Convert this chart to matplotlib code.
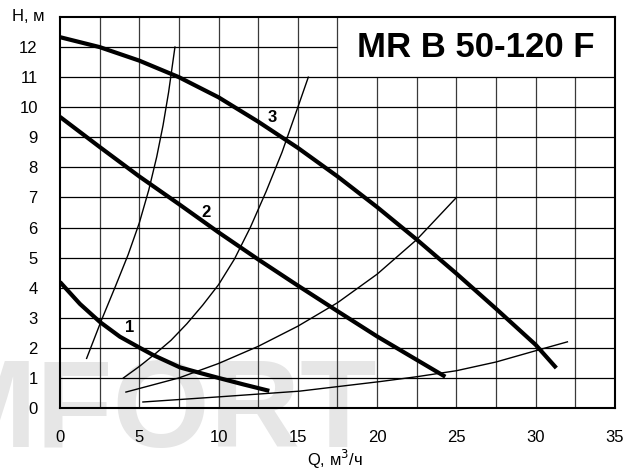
import matplotlib
matplotlib.use('Agg')
import matplotlib.pyplot as plt
import numpy as np

plt.rcParams['font.family'] = ['Liberation Sans', 'DejaVu Sans']

# pump curves (Q, H)
q1 = [0, 1.26, 2.52, 3.78, 5.04, 5.88, 7.57, 8.8, 10.0, 11.6, 13.2]
h1 = [4.19, 3.46, 2.86, 2.37, 2.0, 1.76, 1.35, 1.17, 1.0, 0.78, 0.57]

q2 = [0, 2.5, 5, 7.5, 10, 12.5, 15, 17.5, 20, 22.5, 24.3]
h2 = [9.68, 8.68, 7.7, 6.78, 5.84, 4.94, 4.07, 3.22, 2.38, 1.6, 1.04]

q3 = [0, 2.5, 5, 7.5, 10, 12.5, 15, 17.5, 20, 22.5, 25, 27.5, 30, 31.3]
h3 = [12.33, 12.0, 11.55, 11.0, 10.33, 9.52, 8.65, 7.7, 6.68, 5.6, 4.47, 3.3, 2.1, 1.33]

# system curves
qa = [1.68, 2.6, 3.5, 4.3, 5.0, 5.6, 6.1, 6.5, 6.85, 7.25]
ha = [1.65, 2.9, 4.05, 5.1, 6.15, 7.25, 8.35, 9.4, 10.5, 12.0]

qb = [4.0, 5.0, 6.0, 7.0, 8.0, 9.0, 10.0, 11.0, 12.0, 13.0, 14.0, 15.0, 15.66]
hb = [1.0, 1.38, 1.8, 2.25, 2.8, 3.42, 4.1, 4.95, 6.0, 7.2, 8.5, 10.0, 11.0]

qc = [4.16, 7.5, 10.0, 12.5, 15.0, 17.5, 20.0, 22.5, 25.0]
hc = [0.53, 1.0, 1.48, 2.05, 2.72, 3.5, 4.45, 5.6, 7.0]

qd = [5.23, 10.0, 15.1, 20.2, 22.5, 25.0, 27.5, 30.1, 32.0]
hd = [0.2, 0.37, 0.56, 0.88, 1.04, 1.24, 1.53, 1.92, 2.2]

xticks = [0, 5, 10, 15, 20, 25, 30, 35]
yticks = list(range(0, 13))
title = 'MR B 50-120 F'

fig = plt.figure(figsize=(6.32, 4.70), dpi=100)
# faint watermark behind the chart
fig.text(377 / 632, 23 / 470, 'MFORT', fontsize=90, fontweight='bold', color='#e6e6e6',
         ha='right', va='baseline', zorder=-5)
ax = fig.add_axes([0.0949, 0.1319, 0.8782, 0.8319])
ax.set_facecolor('none')
ax.set_xlim(0, 35)
ax.set_ylim(0, 13)

# grid, leaving the title box empty
for x in np.arange(2.5, 35, 2.5):
    top = 13 if x <= 17.5 else 11
    ax.vlines(x, 0, top, color='#3a3a3a', lw=0.9, zorder=1)
for y in range(1, 13):
    right = 17.5 if y == 12 else 35
    ax.hlines(y, 0, right, color='black', lw=0.9, zorder=1)

for q, h in [(qa, ha), (qb, hb), (qc, hc), (qd, hd)]:
    ax.plot(q, h, color='black', lw=1.0, zorder=2, solid_joinstyle='round')
for q, h in [(q1, h1), (q2, h2), (q3, h3)]:
    ax.plot(q, h, color='black', lw=3.0, zorder=3, solid_capstyle='butt',
            solid_joinstyle='round')

ax.text(4.41, 2.68, '1', fontsize=12, fontweight='bold', ha='center', va='center')
ax.text(9.2, 6.5, '2', fontsize=12, fontweight='bold', ha='center', va='center')
ax.text(13.4, 9.66, '3', fontsize=12, fontweight='bold', ha='center', va='center')

ax.text(26.25, 12.0, title, fontsize=25, fontweight='bold', ha='center', va='center')

for s in ax.spines.values():
    s.set_linewidth(1.5)
ax.set_xticks(xticks)
ax.set_yticks(yticks)
ax.tick_params(length=0, labelsize=12)
ax.tick_params(axis='y', pad=16)
ax.tick_params(axis='x', pad=16)

fig.text(0.045, 0.965, 'H, м', fontsize=12, ha='center', va='center')
fig.text(0.53, 0.022, 'Q, м$^3$/ч', fontsize=12, ha='center', va='center')

fig.savefig('out.png', dpi=100)
